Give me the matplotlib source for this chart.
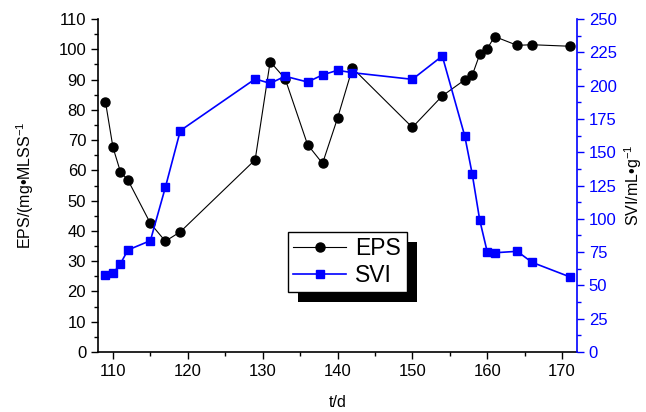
import numpy as np
import matplotlib
matplotlib.use('Agg')
import matplotlib.pyplot as plt
import matplotlib.patches as mpatches
from matplotlib.transforms import IdentityTransform
from matplotlib.ticker import MultipleLocator

plt.rcParams['font.family'] = ['Liberation Sans', 'DejaVu Sans']
plt.rcParams['mathtext.fontset'] = 'custom'
plt.rcParams['mathtext.rm'] = 'Liberation Sans'
plt.rcParams['mathtext.it'] = 'Liberation Sans'

t_eps = [109, 110, 111, 112, 115, 117, 119, 129, 131, 133, 136, 138, 140, 142,
         150, 154, 157, 158, 159, 160, 161, 164, 166, 171]
eps = [82.6, 67.6, 59.5, 56.8, 42.5, 36.6, 39.7, 63.5, 95.9, 90.3, 68.5, 62.3,
       77.2, 93.8, 74.2, 84.6, 89.9, 91.4, 98.3, 100.2, 104.2, 101.3, 101.5, 101.0]

t_svi = [109, 110, 111, 112, 115, 117, 119, 129, 131, 133, 136, 138, 140, 142,
         150, 154, 157, 158, 159, 160, 161, 164, 166, 171]
svi = [57.8, 59.0, 66.3, 76.6, 83.6, 123.6, 166.2, 205.0, 201.7, 207.0, 202.7,
       208.0, 211.5, 209.7, 204.7, 222.2, 162.2, 133.6, 99.1, 75.3, 74.5, 75.6,
       67.3, 56.5]

fig = plt.figure(figsize=(6.46, 4.12), dpi=100)
ax = fig.add_axes([0.1517, 0.1456, 0.7415, 0.8083])
ax2 = ax.twinx()

l1, = ax.plot(t_eps, eps, color='black', lw=0.8, marker='o', ms=6.5, label='EPS')
l2, = ax2.plot(t_svi, svi, color='#0000FF', lw=1.2, marker='s', ms=5.5, label='SVI')

ax.set_xlim(108, 172)
ax.set_ylim(0, 110)
ax2.set_ylim(0, 250)

ax.xaxis.set_major_locator(MultipleLocator(10))
ax.xaxis.set_minor_locator(MultipleLocator(5))
ax.yaxis.set_major_locator(MultipleLocator(10))
ax.yaxis.set_minor_locator(MultipleLocator(5))
ax2.yaxis.set_major_locator(MultipleLocator(25))
ax2.yaxis.set_minor_locator(MultipleLocator(12.5))

ax.tick_params(which='major', direction='out', length=5, width=1, labelsize=12)
ax.tick_params(which='minor', direction='out', length=3, width=1)
ax2.tick_params(which='major', direction='out', length=5, width=1, labelsize=12,
                colors='#0000FF')
ax2.tick_params(which='minor', direction='out', length=3, width=1, colors='#0000FF')

for a in (ax, ax2):
    a.spines['top'].set_visible(False)
ax.spines['right'].set_visible(False)
ax2.spines['left'].set_visible(False)
ax2.spines['bottom'].set_visible(False)
ax2.spines['right'].set_color('#0000FF')
ax2.spines['right'].set_linewidth(1.2)
ax.spines['left'].set_linewidth(1.2)
ax.spines['bottom'].set_linewidth(1.2)

ax.set_xlabel('t/d', fontsize=11.5, labelpad=12)
ax.set_ylabel(r'EPS/(mg•MLSS$^{-1}$', fontsize=11.5, labelpad=16)
ax2.set_ylabel(r'SVI/mL•g$^{-1}$', fontsize=11.5, color='black', labelpad=4)

leg = ax2.legend([l1, l2], ['EPS', 'SVI'], loc='lower left',
                 bbox_to_anchor=(0.396, 0.179), borderaxespad=0,
                 fancybox=False, edgecolor='black', framealpha=1,
                 fontsize=16.5, handlelength=2.3, handletextpad=0.4,
                 borderpad=0.25, labelspacing=0.15)
leg.get_frame().set_linewidth(1.0)
leg.set_zorder(10)

fig.canvas.draw()
bb = leg.get_window_extent()
off = 10
shadow = mpatches.Rectangle((bb.x0 + off, bb.y0 - off), bb.width, bb.height,
                            transform=IdentityTransform(), facecolor='black',
                            edgecolor='none', zorder=9, clip_on=False)
ax2.add_artist(shadow)

fig.savefig('out.png', dpi=100)
